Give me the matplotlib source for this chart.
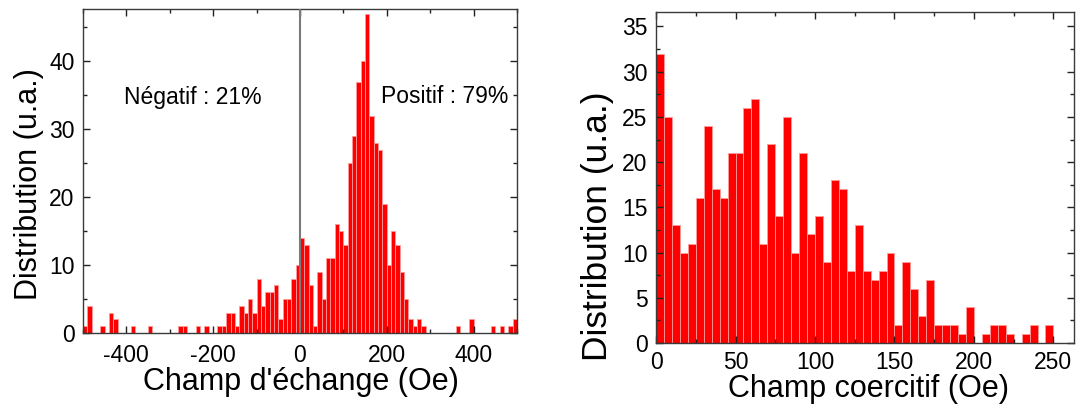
import matplotlib
matplotlib.use("Agg")
import matplotlib.pyplot as plt
import numpy as np
from matplotlib.ticker import MultipleLocator

plt.rcParams['font.family'] = ['Liberation Sans', 'DejaVu Sans']
plt.rcParams['axes.unicode_minus'] = False

# === Données : champ d'échange (bins de 10 Oe, de -500 à 500) ===
exch_start = -500
exch_width = 10
exch_counts = [
    1, 4, 0, 0, 1, 0, 3, 2, 0, 0,          # -500 .. -410
    0, 1, 0, 0, 0, 1, 0, 0, 0, 0,          # -400 .. -310
    0, 0, 1, 1, 0, 0, 1, 0, 1, 0,          # -300 .. -210
    0, 1, 1, 3, 3, 1, 4, 3, 5, 3,          # -200 .. -110
    8, 4, 6, 6, 7, 2, 5, 5, 8, 10,         # -100 .. -10
    14, 13, 7, 1, 9, 5, 11, 11, 16, 15,    # 0 .. 90
    13, 25, 29, 37, 40, 47, 32, 28, 27, 19,  # 100 .. 190
    10, 15, 13, 9, 5, 2, 1, 2, 1, 0,       # 200 .. 290
    0, 0, 0, 0, 0, 0, 1, 0, 0, 2,          # 300 .. 390
    0, 0, 0, 0, 1, 0, 1, 0, 1, 2,          # 400 .. 490
]

# === Données : champ coercitif (bins de 5 Oe, de 0 à 250) ===
coer_start = 0
coer_width = 5
coer_counts = [
    32, 25, 13, 10, 11, 16, 24, 17, 16, 21,
    21, 26, 27, 11, 22, 14, 25, 10, 21, 12,
    14, 9, 18, 17, 8, 13, 8, 7, 8, 10,
    2, 9, 6, 3, 7, 2, 2, 2, 1, 4,
    0, 1, 2, 2, 1, 0, 1, 2, 0, 2,
]

neg_label = "Négatif : 21%"
pos_label = "Positif : 79%"

exch_edges = exch_start + exch_width * np.arange(len(exch_counts))
coer_edges = coer_start + coer_width * np.arange(len(coer_counts))

fig = plt.figure(figsize=(10.76, 4.07), dpi=100)
ax1 = fig.add_axes([0.0771, 0.1818, 0.4033, 0.7961])
ax2 = fig.add_axes([0.6097, 0.1572, 0.3885, 0.8133])

bar_kw = dict(align='edge', color='#ff0000', edgecolor='#ff9a9a', linewidth=0.6)


def style_axis(ax, xpad):
    for sp in ax.spines.values():
        sp.set_color('#3a3a3a')
        sp.set_linewidth(1.0)
    ax.tick_params(which='both', direction='in', top=True, right=True,
                   labelsize=16.5, color='#222222')
    ax.tick_params(which='major', length=5, width=1)
    ax.tick_params(which='minor', length=3, width=1)
    ax.tick_params(axis='x', pad=xpad)
    ax.tick_params(axis='y', pad=6)


# --- gauche : champ d'échange ---
ax1.bar(exch_edges, exch_counts, width=exch_width, **bar_kw)
ax1.axvline(0, color='#7a7a7a', linewidth=1.5, zorder=3)
ax1.set_xlim(-500, 500)
ax1.set_ylim(0, 47.7)
ax1.xaxis.set_major_locator(MultipleLocator(200))
ax1.xaxis.set_minor_locator(MultipleLocator(100))
ax1.yaxis.set_major_locator(MultipleLocator(10))
ax1.yaxis.set_minor_locator(MultipleLocator(5))
style_axis(ax1, 8)
ax1.set_xlabel("Champ d'échange (Oe)", fontsize=22)
ax1.xaxis.set_label_coords(0.503, -0.104)
ax1.set_ylabel("Distribution (u.a.)", fontsize=22)
ax1.yaxis.set_label_coords(-0.09, 0.461)
ax1.text(-247, 34.6, neg_label, fontsize=16.5, ha='center', va='center')
ax1.text(333, 34.8, pos_label, fontsize=16.5, ha='center', va='center')

# --- droite : champ coercitif ---
ax2.bar(coer_edges, coer_counts, width=coer_width, **bar_kw)
ax2.set_xlim(0, 263)
ax2.set_ylim(0, 36.6)
ax2.xaxis.set_major_locator(MultipleLocator(50))
ax2.xaxis.set_minor_locator(MultipleLocator(25))
ax2.yaxis.set_major_locator(MultipleLocator(5))
ax2.yaxis.set_minor_locator(MultipleLocator(2.5))
style_axis(ax2, 6)
ax2.set_xlabel("Champ coercitif (Oe)", fontsize=22)
ax2.xaxis.set_label_coords(0.508, -0.093)
ax2.set_ylabel("Distribution (u.a.)", fontsize=25.5)
ax2.yaxis.set_label_coords(-0.1, 0.353)

fig.savefig("out.png", dpi=100)
